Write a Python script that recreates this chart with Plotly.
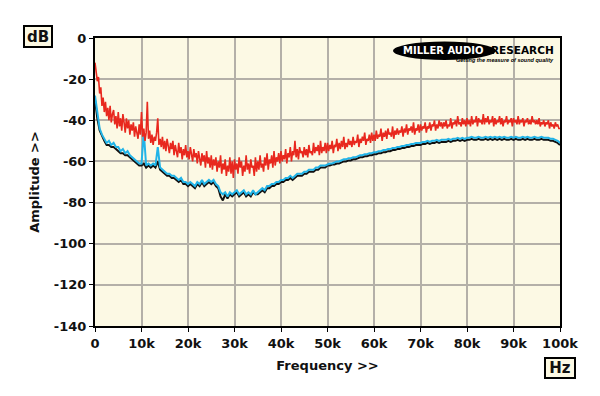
import plotly.graph_objects as go

# red trace: 0 .. 100 kHz every 250 Hz
freq_red_hz = [i * 250 for i in range(401)]
# black / cyan traces: 0 .. 100 kHz every 500 Hz
freq_hz = [i * 500 for i in range(201)]

red_db = [
    -12, -16, -21, -19, -27, -24, -33, -29, -36, -31, -38, -34, -40, -33, -41, -37, -35, -42, -38, -44,
    -36, -43, -39, -45, -37, -41, -46, -39, -44, -40, -47, -42, -45, -41, -48, -43, -46, -49, -42, -47,
    -36, -48, -44, -50, -46, -31, -49, -45, -51, -47, -52, -48, -50, -46, -39, -52, -49, -53, -48, -54,
    -50, -55, -49, -53, -56, -51, -54, -50, -57, -52, -55, -58, -51, -56, -53, -59, -54, -57, -52, -58,
    -55, -59, -53, -57, -60, -54, -58, -56, -61, -55, -59, -62, -56, -60, -57, -63, -55, -61, -58, -63,
    -57, -64, -59, -62, -58, -65, -60, -63, -57, -66, -61, -64, -59, -67, -62, -65, -58, -66, -60, -68,
    -59, -64, -61, -66, -58, -63, -60, -67, -62, -65, -57, -64, -61, -66, -59, -63, -62, -67, -58, -65,
    -60, -64, -57, -63, -61, -65, -58, -62, -56, -64, -59, -61, -57, -63, -55, -62, -58, -60, -56, -61,
    -55, -60, -57, -59, -54, -61, -56, -58, -53, -60, -55, -57, -50, -58, -54, -59, -53, -56, -55, -58,
    -53, -57, -54, -58, -52, -56, -55, -57, -51, -56, -53, -55, -52, -57, -50, -56, -53, -55, -51, -56,
    -51, -55, -52, -54, -50, -56, -52, -53, -49, -55, -51, -54, -50, -53, -48, -54, -51, -53, -49, -52,
    -50, -53, -48, -52, -50, -51, -47, -53, -49, -51, -48, -50, -46, -52, -49, -50, -47, -51, -46, -50,
    -47, -50, -45, -49, -47, -48, -44, -50, -46, -48, -45, -49, -44, -47, -46, -48, -43, -49, -45, -47,
    -44, -47, -45, -46, -43, -48, -44, -46, -42, -47, -44, -45, -43, -46, -41, -47, -44, -45, -42, -46,
    -42, -45, -43, -44, -41, -46, -43, -44, -41, -45, -42, -43, -40, -45, -42, -44, -40, -43, -41, -44,
    -41, -43, -40, -44, -42, -43, -39, -44, -41, -42, -40, -43, -38, -42, -41, -43, -39, -42, -40, -43,
    -39, -42, -40, -43, -38, -42, -40, -41, -38, -43, -39, -41, -40, -42, -37, -42, -39, -41, -38, -42,
    -40, -41, -38, -43, -39, -42, -40, -41, -38, -42, -39, -43, -40, -41, -38, -42, -40, -41, -39, -43,
    -39, -41, -40, -42, -38, -42, -40, -41, -39, -43, -40, -41, -39, -42, -40, -42, -38, -41, -40, -42,
    -40, -42, -39, -43, -41, -42, -40, -43, -41, -42, -40, -44, -41, -43, -42, -44, -41, -43, -42, -44,
    -44,
]

cyan_db = [
    -28, -37, -44, -47, -49, -51, -50, -52, -51, -53,
    -53, -55, -54, -56, -55, -57, -58, -59, -60, -61,
    -61, -46, -62, -61, -62, -61, -62, -53, -63, -64,
    -65, -66, -66, -67, -67, -68, -69, -68, -70, -70,
    -71, -70, -71, -72, -70, -71, -69, -71, -70, -69,
    -70, -69, -71, -72, -75, -76, -75, -77, -75, -76,
    -75, -74, -76, -75, -74, -76, -75, -76, -74, -76,
    -75, -74, -73, -74, -72, -72, -71, -71, -70, -70,
    -69, -69, -68, -68, -67, -68, -67, -66, -66, -66,
    -65, -65, -64, -64, -64, -63, -63, -62, -62, -62,
    -61.5, -61, -61, -60.5, -60, -60, -59.5, -59, -59, -58.5,
    -58.5, -58, -58, -57.5, -57, -57, -56.5, -56.5, -56, -56,
    -55.5, -55.5, -55, -55, -54.5, -54.5, -54, -54, -53.5, -53.5,
    -53, -53, -52.5, -52.5, -52, -52, -51.5, -51.5, -51, -51,
    -51, -50.5, -50.5, -50, -50.5, -50, -50, -49.5, -50, -49.5,
    -49.5, -49.5, -49, -49.5, -49, -49, -48.5, -49, -48.5, -49,
    -48.5, -48.5, -48, -48.5, -48.5, -48, -48.5, -48.5, -48, -48.5,
    -48, -48.5, -48, -48.5, -48, -48.5, -48, -48.5, -48.5, -48,
    -48.5, -48, -48.5, -48.5, -48, -48.5, -48, -48.5, -48.5, -48,
    -48.5, -48.5, -48, -48.5, -48.5, -48.5, -49, -49, -49.5, -50,
    -51,
]

black_db = [
    -30, -39, -45, -48, -50, -52, -52, -53, -53, -54,
    -55, -56, -56, -57, -57, -58, -59, -60, -61, -62,
    -62, -61, -63, -62, -63, -62, -63, -60, -64, -65,
    -66, -67, -67, -68, -68, -69, -70, -69, -71, -71,
    -72, -71, -72, -73, -71, -72, -70, -72, -71, -70,
    -71, -70, -72, -73, -77, -79, -76, -78, -76, -77,
    -76, -75, -77, -76, -75, -77, -76, -77, -75, -76,
    -76, -75, -74, -75, -73, -73, -72, -72, -71, -71,
    -70, -70, -69, -69, -68, -69, -68, -67, -67, -67,
    -66, -66, -65, -65, -65, -64, -64, -63, -63, -63,
    -62, -62, -61.5, -61.5, -61, -61, -60.5, -60, -60, -59.5,
    -59.5, -59, -59, -58.5, -58, -58, -57.5, -57.5, -57, -57,
    -56.5, -56.5, -56, -56, -55.5, -55.5, -55, -55, -54.5, -54.5,
    -54, -54, -53.5, -53.5, -53, -53, -52.5, -52.5, -52, -52,
    -52, -51.5, -51.5, -51, -51.5, -51, -51, -50.5, -51, -50.5,
    -50.5, -50.5, -50, -50.5, -50, -50, -49.5, -50, -49.5, -50,
    -49.5, -49.5, -49, -49.5, -49.5, -49, -49.5, -49.5, -49, -49.5,
    -49, -49.5, -49, -49.5, -49, -49.5, -49, -49.5, -49.5, -49,
    -49.5, -49, -49.5, -49.5, -49, -49.5, -49, -49.5, -49.5, -49,
    -49.5, -49.5, -49, -49.5, -49.5, -49.5, -50, -50, -50.5, -51,
    -52,
]

x_tickvals = [0, 10000, 20000, 30000, 40000, 50000, 60000, 70000, 80000, 90000, 100000]
x_ticktext = ["0", "10k", "20k", "30k", "40k", "50k", "60k", "70k", "80k", "90k", "100k"]
y_tickvals = [0, -20, -40, -60, -80, -100, -120, -140]
y_ticktext = ["0", "-20", "-40", "-60", "-80", "-100", "-120", "-140"]

FONT = "DejaVu Sans, Liberation Sans, sans-serif"
BG = "#FCF9E4"

fig = go.Figure()
fig.add_trace(go.Scatter(x=freq_hz, y=black_db, mode="lines",
                         line=dict(color="#111111", width=2), showlegend=False))
fig.add_trace(go.Scatter(x=freq_hz, y=cyan_db, mode="lines",
                         line=dict(color="#22B4E8", width=2), showlegend=False))
fig.add_trace(go.Scatter(x=freq_red_hz, y=red_db, mode="lines",
                         line=dict(color="#E8281E", width=1.6), showlegend=False))

fig.update_layout(
    width=600, height=396,
    margin=dict(l=95, r=40, t=38, b=70),
    paper_bgcolor="#FFFFFF",
    plot_bgcolor=BG,
    font=dict(family=FONT, size=13, color="#111111"),
    xaxis=dict(
        range=[0, 100000], tickvals=x_tickvals, ticktext=x_ticktext,
        showgrid=True, gridcolor="#B4B0A8", gridwidth=1.5,
        showline=True, linecolor="#000000", linewidth=2, mirror=True,
        ticks="outside", ticklen=4, tickcolor="#000000",
        tickfont=dict(family=FONT, size=13, color="#111111", weight="bold"),
        zeroline=False,
        title=dict(text="<b>Frequency >></b>", font=dict(family=FONT, size=13), standoff=11),
    ),
    yaxis=dict(
        range=[-140, 0], tickvals=y_tickvals, ticktext=y_ticktext,
        showgrid=True, gridcolor="#B4B0A8", gridwidth=1.5,
        showline=True, linecolor="#000000", linewidth=2, mirror=True,
        ticks="outside", ticklen=4, tickcolor="#000000",
        tickfont=dict(family=FONT, size=13, color="#111111", weight="bold"),
        zeroline=False,
        title=dict(text="<b>Amplitude >></b>", font=dict(family=FONT, size=13), standoff=11),
    ),
)

# unit boxes
fig.add_annotation(xref="paper", yref="paper", x=-0.1226, y=1.005, xanchor="center", yanchor="middle",
                   text="<b>dB</b>", showarrow=False, font=dict(family=FONT, size=15),
                   width=26, height=19, bgcolor=BG, bordercolor="#000000", borderwidth=2, borderpad=0)
fig.add_annotation(xref="paper", yref="paper", x=1.0, y=-0.146, xanchor="center", yanchor="middle",
                   text="<b>Hz</b>", showarrow=False, font=dict(family=FONT, size=15),
                   width=28, height=18, bgcolor=BG, bordercolor="#000000", borderwidth=2, borderpad=0)

# logo
fig.add_shape(type="circle", xref="paper", yref="paper", x0=0.641, x1=0.862, y0=0.924, y1=0.988,
              fillcolor="#000000", line=dict(color="#000000", width=0))
fig.add_annotation(xref="paper", yref="paper", x=0.750, y=0.957, xanchor="center", yanchor="middle",
                   text="<b>MILLER AUDIO</b>", showarrow=False,
                   font=dict(family="DejaVu Sans, sans-serif", size=10, color="#FFFFFF"))
fig.add_annotation(xref="paper", yref="paper", x=0.992, y=0.957, xanchor="right", yanchor="middle",
                   text="<b>RESEARCH</b>", showarrow=False,
                   font=dict(family="DejaVu Sans, sans-serif", size=10.5, color="#000000"))
fig.add_annotation(xref="paper", yref="paper", x=0.992, y=0.925, xanchor="right", yanchor="middle",
                   text="<i><b>Getting the measure of sound quality</b></i>", showarrow=False,
                   font=dict(family="Liberation Sans, sans-serif", size=5.5, color="#000000"))

fig.write_html("out.html", config={"displayModeBar": False},
               post_script="document.body.style.margin='0';")
